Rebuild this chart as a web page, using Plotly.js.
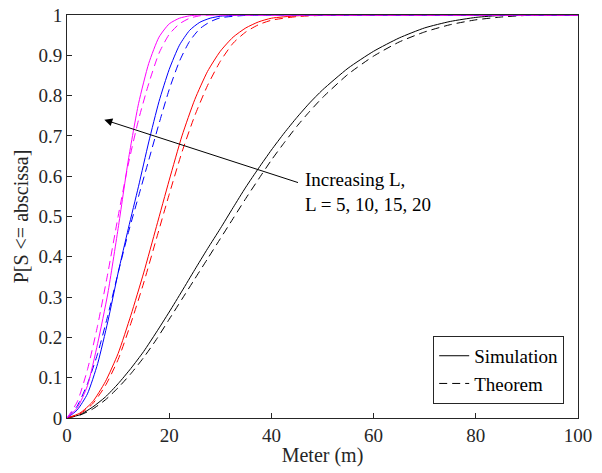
<!DOCTYPE html>
<html><head><meta charset="utf-8">
<script src="https://cdn.plot.ly/plotly-3.0.1.min.js"></script>
<style>html,body{margin:0;padding:0;background:#fff}#c{width:602px;height:473px}</style>
</head><body><div id="c"></div>
<script>
// L = 5 (black)
const xBlackSim = [0,2.5,5,7.5,10,12.5,15,17.5,20,22.5,25,27.5,30,32.5,35,37.5,40,42.5,45,47.5,50,55,60,65,70,75,80,85,90,95,100];
const yBlackSim = [0,0.008,0.027,0.052,0.085,0.123,0.165,0.213,0.263,0.315,0.368,0.42,0.47,0.522,0.573,0.62,0.665,0.707,0.746,0.782,0.814,0.868,0.91,0.943,0.968,0.984,0.994,0.999,1,1,1];
const xBlackThm = [0,2.5,5,7.5,10,12.5,15,17.5,20,22.5,25,27.5,30,32.5,35,37.5,40,42.5,45,47.5,50,55,60,65,70,75,80,85,90,95,100];
const yBlackThm = [0,0.007,0.022,0.045,0.075,0.11,0.15,0.195,0.245,0.295,0.345,0.395,0.445,0.495,0.545,0.593,0.64,0.683,0.724,0.761,0.795,0.853,0.898,0.933,0.958,0.976,0.988,0.995,0.999,1,1];
// L = 10 (red)
const xRedSim = [0,2.5,5,7.5,10,12.5,15,17.5,20,22.5,25,27.5,30,32.5,35,37.5,40,45,50,60,80,100];
const yRedSim = [0,0.012,0.04,0.09,0.16,0.255,0.36,0.475,0.59,0.7,0.79,0.86,0.91,0.945,0.968,0.983,0.992,0.998,1,1,1,1];
const xRedThm = [0,2.5,5,7.5,10,12.5,15,17.5,20,22.5,25,27.5,30,32.5,35,37.5,40,45,50,55,60,80,100];
const yRedThm = [0,0.01,0.035,0.08,0.145,0.235,0.335,0.445,0.555,0.66,0.75,0.825,0.885,0.93,0.958,0.976,0.987,0.996,0.999,1,1,1,1];
// L = 15 (blue)
const xBlueSim = [0,2,4,6,8,10,12,14,16,18,20,22,24,26,28,30,35,40,60,80,100];
const yBlueSim = [0,0.02,0.06,0.135,0.24,0.36,0.47,0.575,0.685,0.785,0.865,0.925,0.962,0.982,0.992,0.997,1,1,1,1,1];
const xBlueThm = [0,2,4,6,8,10,12,14,16,18,20,22,24,26,28,30,35,40,60,80,100];
const yBlueThm = [0,0.03,0.085,0.16,0.255,0.36,0.46,0.55,0.64,0.73,0.815,0.885,0.935,0.966,0.983,0.993,0.999,1,1,1,1];
// L = 20 (magenta)
const xMagSim = [0,2,4,6,8,10,12,14,16,18,20,22,24,26,30,40,60,80,100];
const yMagSim = [0,0.025,0.08,0.185,0.31,0.47,0.64,0.78,0.88,0.945,0.978,0.992,0.998,1,1,1,1,1,1];
const xMagThm = [0,2,4,6,8,10,12,14,16,18,20,22,24,26,28,30,40,60,80,100];
const yMagThm = [0,0.04,0.12,0.23,0.36,0.5,0.63,0.74,0.83,0.905,0.952,0.978,0.992,0.998,1,1,1,1,1,1];

const xTicks = [0,20,40,60,80,100];
const yTicks = [0,0.1,0.2,0.3,0.4,0.5,0.6,0.7,0.8,0.9,1];
const yTickText = ['0','0.1','0.2','0.3','0.4','0.5','0.6','0.7','0.8','0.9','1'];

const series = [
  {x:xBlackSim,y:yBlackSim,c:'#000000',d:'solid',name:'Simulation',leg:true},
  {x:xBlackThm,y:yBlackThm,c:'#000000',d:'dash',name:'Theorem',leg:true},
  {x:xRedSim,y:yRedSim,c:'#ff0000',d:'solid'},
  {x:xRedThm,y:yRedThm,c:'#ff0000',d:'dash'},
  {x:xBlueSim,y:yBlueSim,c:'#0000ff',d:'solid'},
  {x:xBlueThm,y:yBlueThm,c:'#0000ff',d:'dash'},
  {x:xMagSim,y:yMagSim,c:'#ff00ff',d:'solid'},
  {x:xMagThm,y:yMagThm,c:'#ff00ff',d:'dash'}
];
const traces = series.map(s => ({
  x:s.x, y:s.y, type:'scatter', mode:'lines',
  line:{color:s.c, dash:s.d==='dash'?'8px,5px':'solid', width:1, shape:'spline', smoothing:0.6},
  name:s.name||'', showlegend:!!s.leg
}));

const fam = 'Liberation Serif, Times New Roman, serif';
const layout = {
  width:602, height:473,
  margin:{l:67, r:24, t:15, b:55},
  paper_bgcolor:'#fff', plot_bgcolor:'#fff',
  font:{family:fam, size:19, color:'#262626'},
  showlegend:true,
  legend:{x:0.973, y:0.035, xanchor:'right', yanchor:'bottom', bordercolor:'#262626', borderwidth:1,
          bgcolor:'#fff', font:{family:fam, size:19, color:'#000'}, tracegroupgap:0, itemwidth:30},
  xaxis:{range:[0,100], tickvals:xTicks, ticks:'inside', ticklen:5, tickcolor:'#262626',
         tickfont:{family:fam,size:19,color:'#262626'},
         showline:true, mirror:true, linecolor:'#262626', linewidth:1, showgrid:false, zeroline:false,
         title:{text:'Meter (m)', font:{family:fam,size:20,color:'#262626'}, standoff:3}},
  yaxis:{range:[0,1], tickvals:yTicks, ticktext:yTickText, ticks:'inside', ticklen:5, tickcolor:'#262626',
         tickfont:{family:fam,size:19,color:'#262626'},
         showline:true, mirror:true, linecolor:'#262626', linewidth:1, showgrid:false, zeroline:false,
         title:{text:'P[S <= abscissa]', font:{family:fam,size:20,color:'#262626'}, standoff:4}},
  annotations:[
    {x:7.3, y:0.74, ax:45.5, ay:0.583, xref:'x', yref:'y', axref:'x', ayref:'y', text:'',
     showarrow:true, arrowhead:2, arrowsize:1.6, arrowwidth:1, arrowcolor:'#000'},
    {x:46.2, y:0.56, xref:'x', yref:'y', xanchor:'left', yanchor:'middle', align:'left', showarrow:false,
     text:'Increasing L,<br>L = 5, 10, 15, 20', font:{family:fam, size:19, color:'#000'}}
  ]
};
Plotly.newPlot('c', traces, layout, {displayModeBar:false, staticPlot:true});
</script></body></html>
